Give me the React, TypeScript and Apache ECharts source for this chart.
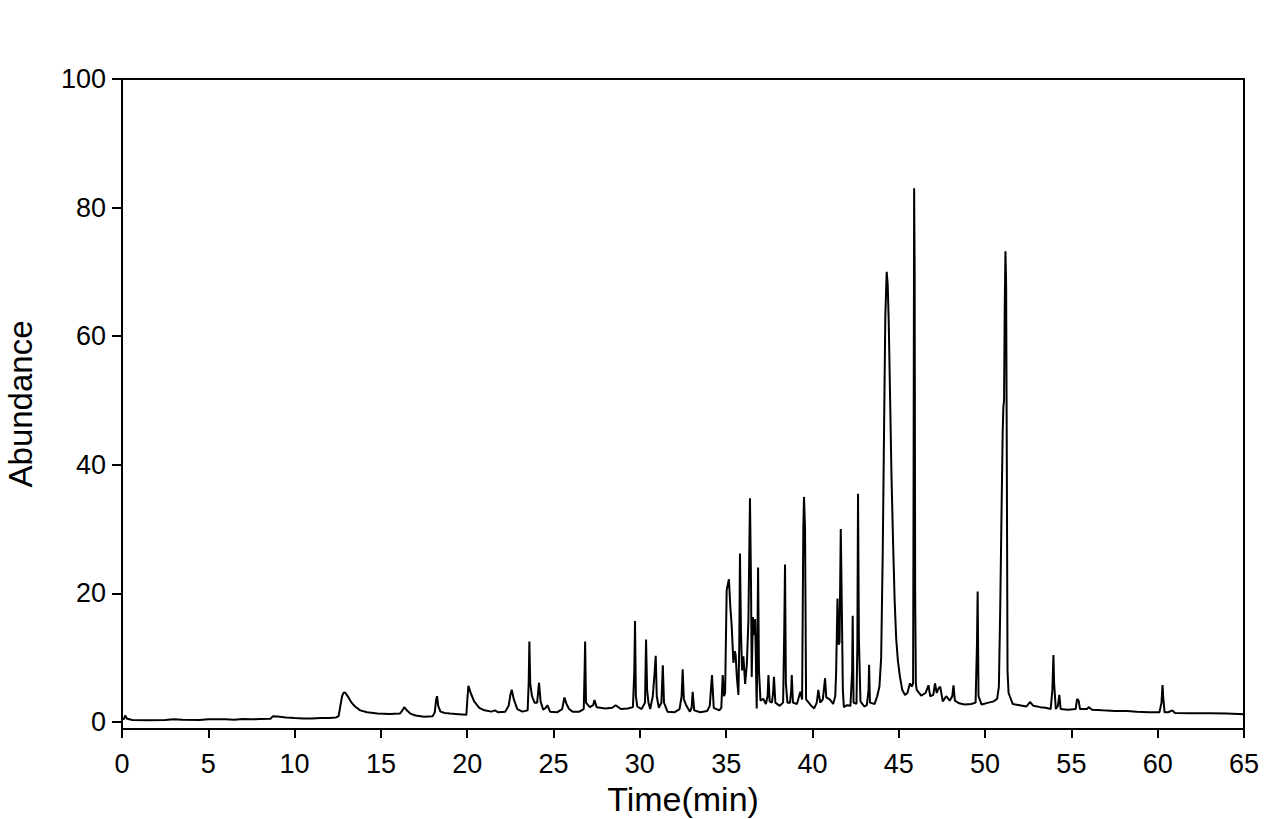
import React, { useEffect, useRef } from "react";
import * as echarts from "echarts";

const times = [
  0, 0.12, 0.18, 0.3, 0.6, 1.5, 2.5, 3.0, 3.5, 4.5, 5.0, 6.0, 6.5, 7.0, 7.5, 8.0, 8.6, 8.75, 9.0, 9.5,
  10.0, 10.5, 11.0, 11.5, 12.0, 12.4, 12.55, 12.65, 12.75, 12.85, 12.95, 13.1, 13.3, 13.5, 13.8, 14.2, 14.8, 15.5, 16.1, 16.25,
  16.35, 16.5, 16.7, 17.0, 17.5, 18.0, 18.12, 18.2, 18.25, 18.32, 18.45, 18.7, 19.0, 19.5, 19.95, 20.02, 20.07, 20.2, 20.4, 20.7,
  21.0, 21.4, 21.6, 21.8, 22.2, 22.4, 22.5, 22.58, 22.7, 22.9, 23.2, 23.5, 23.56, 23.6, 23.65, 23.75, 23.9, 24.05, 24.16, 24.25,
  24.4, 24.55, 24.64, 24.8, 25.2, 25.5, 25.63, 25.75, 25.9, 26.1, 26.5, 26.75, 26.8, 26.83, 26.88, 27.1, 27.3, 27.37, 27.5, 28.0,
  28.4, 28.6, 28.9, 29.3, 29.6, 29.68, 29.72, 29.77, 29.85, 30.1, 30.3, 30.36, 30.42, 30.5, 30.6, 30.75, 30.85, 30.92, 30.98, 31.1,
  31.25, 31.33, 31.4, 31.6, 32.0, 32.3, 32.42, 32.48, 32.55, 32.7, 32.9, 33.0, 33.06, 33.15, 33.5, 33.9, 34.05, 34.18, 34.28, 34.6,
  34.72, 34.8, 34.88, 34.94, 35.03, 35.16, 35.24, 35.32, 35.42, 35.5, 35.55, 35.62, 35.71, 35.76, 35.8, 35.86, 35.92, 36.0, 36.1, 36.2,
  36.29, 36.38, 36.44, 36.48, 36.55, 36.61, 36.68, 36.77, 36.81, 36.85, 36.9, 36.99, 37.15, 37.3, 37.4, 37.45, 37.52, 37.65, 37.72, 37.77,
  37.85, 38.1, 38.3, 38.37, 38.41, 38.46, 38.55, 38.7, 38.77, 38.8, 38.87, 39.1, 39.3, 39.4, 39.47, 39.51, 39.57, 39.63, 39.9, 40.1,
  40.25, 40.34, 40.45, 40.6, 40.68, 40.73, 40.8, 41.0, 41.2, 41.32, 41.37, 41.45, 41.52, 41.57, 41.64, 41.7, 41.76, 41.82, 42.0, 42.2,
  42.3, 42.33, 42.38, 42.55, 42.6, 42.64, 42.69, 42.78, 43.0, 43.15, 43.25, 43.28, 43.33, 43.6, 43.75, 43.88, 43.98, 44.07, 44.15, 44.22,
  44.3, 44.36, 44.42, 44.5, 44.58, 44.67, 44.76, 44.85, 44.95, 45.07, 45.2, 45.36, 45.5, 45.65, 45.75, 45.83, 45.86, 45.89, 45.92, 45.95,
  45.99, 46.04, 46.3, 46.55, 46.72, 46.82, 47.0, 47.1, 47.2, 47.3, 47.4, 47.55, 47.75, 47.95, 48.1, 48.17, 48.25, 48.5, 48.8, 49.2,
  49.45, 49.53, 49.57, 49.62, 49.8, 50.2, 50.5, 50.7, 50.8, 50.88, 50.95, 51.02, 51.06, 51.1, 51.14, 51.18, 51.22, 51.26, 51.3, 51.36,
  51.6, 52.0, 52.4, 52.6, 52.8, 53.2, 53.5, 53.8, 53.9, 53.96, 54.0, 54.1, 54.22, 54.3, 54.38, 54.8, 55.25, 55.33, 55.42, 55.5,
  55.9, 56.0, 56.2, 56.8, 57.5, 58.2, 58.8, 59.5, 60.1, 60.22, 60.28, 60.33, 60.4, 60.6, 60.85, 61.0, 62.0, 63.0, 64.0, 65.0,
];

const abundance = [
  0.4, 0.5, 1.0, 0.5, 0.3, 0.25, 0.3, 0.4, 0.35, 0.3, 0.4, 0.4, 0.35, 0.45, 0.4, 0.45, 0.5, 0.9, 0.85, 0.7,
  0.6, 0.55, 0.55, 0.6, 0.6, 0.7, 0.9, 2.5, 4.0, 4.6, 4.5, 3.9, 3.0, 2.4, 1.8, 1.5, 1.3, 1.25, 1.3, 1.8,
  2.3, 1.8, 1.3, 1.0, 0.8, 0.9, 1.5, 3.5, 4.0, 2.5, 1.6, 1.4, 1.3, 1.2, 1.1, 4.0, 5.6, 4.5, 3.2, 2.2,
  1.8, 1.6, 1.8, 1.5, 1.6, 2.5, 4.2, 5.0, 3.5, 2.0, 1.6, 1.8, 6.0, 12.5, 6.0, 4.0, 3.0, 3.0, 6.1, 3.2,
  1.9, 2.2, 2.6, 1.6, 1.5, 2.0, 3.8, 2.8, 2.0, 1.6, 1.6, 2.0, 8.0, 12.5, 3.0, 2.3, 2.6, 3.4, 2.3, 2.1,
  2.2, 2.6, 2.0, 2.1, 2.3, 8.0, 15.7, 4.0, 2.4, 2.0, 3.0, 12.8, 5.0, 3.0, 2.0, 4.0, 7.5, 10.3, 4.0, 2.2,
  3.0, 8.8, 3.0, 1.6, 1.5, 2.0, 4.0, 8.2, 3.5, 2.5, 1.6, 2.2, 4.7, 1.8, 1.5, 1.7, 2.5, 7.3, 2.2, 1.8,
  2.2, 7.3, 4.0, 4.5, 20.5, 22.2, 18.0, 15.0, 9.2, 11.0, 10.4, 7.0, 4.2, 12.0, 26.2, 14.0, 8.0, 10.2, 5.9, 9.0,
  15.9, 34.8, 21.6, 7.0, 16.3, 13.5, 16.0, 2.1, 12.0, 24.0, 8.0, 3.3, 3.6, 2.8, 4.0, 7.3, 3.2, 3.0, 4.5, 7.0,
  3.0, 2.5, 3.0, 15.0, 24.5, 6.0, 3.0, 3.0, 5.0, 7.3, 3.0, 2.8, 4.7, 3.5, 30.0, 35.0, 30.0, 3.5, 2.6, 2.1,
  3.0, 5.0, 3.0, 3.5, 5.5, 6.8, 3.8, 3.5, 2.8, 4.0, 7.6, 19.2, 12.0, 12.4, 30.0, 18.0, 5.0, 2.3, 2.6, 2.5,
  8.0, 16.5, 3.0, 2.8, 12.0, 35.5, 13.0, 3.2, 2.4, 2.6, 5.0, 8.9, 3.0, 2.8, 4.0, 5.5, 10.0, 26.2, 46.0, 63.0,
  70.0, 68.0, 62.0, 50.0, 38.0, 28.0, 19.0, 13.0, 9.5, 7.0, 5.0, 4.2, 4.5, 6.0, 5.5, 6.0, 40.0, 83.0, 70.0, 20.0,
  6.0, 5.0, 4.1, 4.5, 5.7, 4.0, 4.2, 6.0, 4.5, 5.2, 5.5, 3.2, 4.0, 3.3, 4.0, 5.7, 3.3, 2.9, 2.7, 2.8,
  3.0, 12.0, 20.3, 4.0, 2.7, 3.0, 3.2, 3.6, 5.5, 18.0, 32.0, 45.0, 49.0, 50.0, 65.0, 73.2, 68.0, 40.0, 8.0, 4.5,
  2.8, 2.6, 2.4, 3.1, 2.5, 2.3, 2.2, 2.0, 5.0, 10.4, 6.0, 2.0, 2.5, 4.2, 2.0, 1.9, 2.0, 3.6, 3.3, 2.0,
  2.0, 2.3, 1.9, 1.8, 1.7, 1.7, 1.6, 1.5, 1.5, 3.0, 5.75, 3.5, 1.5, 1.5, 1.8, 1.4, 1.35, 1.35, 1.3, 1.2,
];

const yTickValues = [0, 20, 40, 60, 80, 100];

const FONT = "'Liberation Sans', Arial, sans-serif";

export default function App() {
  const ref = useRef<HTMLDivElement>(null);

  useEffect(() => {
    document.body.style.margin = "0";
    if (!ref.current) return;
    const chart = echarts.init(ref.current, undefined, { renderer: "svg" });
    const data = times.map((t, i) => [t, abundance[i]]);
    chart.setOption({
      animation: false,
      backgroundColor: "#fff",
      grid: {
        left: 122,
        right: 42,
        top: 79,
        bottom: 90,
        show: true,
        borderColor: "#000",
        borderWidth: 2,
        outerBoundsMode: "none",
        containLabel: false,
      },
      xAxis: {
        type: "value",
        min: 0,
        max: 65,
        interval: 5,
        name: "Time(min)",
        nameLocation: "middle",
        nameGap: 47,
        nameTextStyle: { fontSize: 34, color: "#000", fontFamily: FONT },
        axisLine: { onZero: false, lineStyle: { color: "#000", width: 2 } },
        axisTick: { length: 9, lineStyle: { color: "#000", width: 2 } },
        axisLabel: { color: "#000", fontSize: 27, fontFamily: FONT, margin: 21 },
        splitLine: { show: false },
      },
      yAxis: {
        type: "value",
        min: -1.1,
        max: 100,
        name: "Abundance",
        nameLocation: "middle",
        nameGap: 85,
        nameRotate: 90,
        nameTextStyle: { fontSize: 33, color: "#000", fontFamily: FONT },
        axisLine: { onZero: false, lineStyle: { color: "#000", width: 2 } },
        axisTick: {
          length: 10,
          customValues: yTickValues,
          lineStyle: { color: "#000", width: 2 },
        },
        axisLabel: {
          color: "#000",
          fontSize: 27,
          fontFamily: FONT,
          margin: 16,
          customValues: yTickValues,
        },
        splitLine: { show: false },
      },
      series: [
        {
          type: "line",
          data,
          showSymbol: false,
          symbol: "none",
          lineStyle: { color: "#000", width: 2 },
        },
      ],
    });
    return () => chart.dispose();
  }, []);

  return <div ref={ref} style={{ width: 1286, height: 819 }} />;
}
